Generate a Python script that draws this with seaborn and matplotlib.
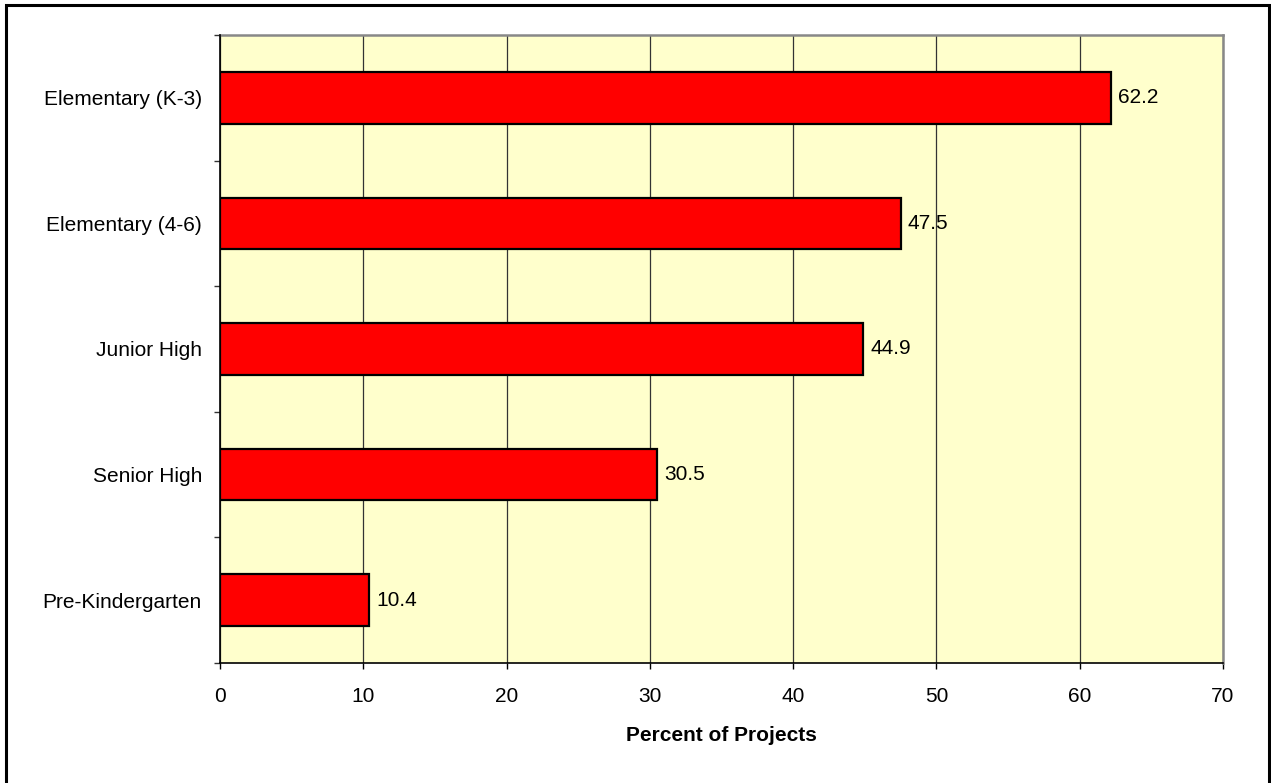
import matplotlib
matplotlib.use("Agg")
import matplotlib.pyplot as plt
import seaborn as sns
import pandas as pd
from matplotlib.patches import Rectangle
from matplotlib.ticker import FixedLocator

levels = ["Elementary (K-3)", "Elementary (4-6)", "Junior High", "Senior High", "Pre-Kindergarten"]
percent = [62.2, 47.5, 44.9, 30.5, 10.4]
xticks = [0, 10, 20, 30, 40, 50, 60, 70]

df = pd.DataFrame({"level": levels, "percent": percent})

sns.set_style("white")
plt.rcParams["font.family"] = ["Liberation Sans", "DejaVu Sans"]
plt.rcParams["text.color"] = "black"
plt.rcParams["xtick.labelcolor"] = "black"
plt.rcParams["ytick.labelcolor"] = "black"
plt.rcParams["axes.labelcolor"] = "black"

fs = 15

fig = plt.figure(figsize=(12.71, 7.83), dpi=100)
ax = fig.add_axes([220 / 1271, 1 - 663 / 783, (1223 - 220) / 1271, (663 - 35) / 783])

sns.barplot(data=df, x="percent", y="level", orient="h", color="#FF0000",
            saturation=1, width=0.41, edgecolor="black", linewidth=1.6, ax=ax, zorder=3)

ax.set_facecolor("#FFFFCC")
ax.set_xlim(0, 70)
ax.set_ylim(len(levels) - 0.5, -0.5)
ax.set_xticks(xticks)
ax.grid(axis="x", color="#333333", linewidth=0.9, zorder=0)
ax.grid(axis="y", visible=False)

# y ticks sit between categories
ax.yaxis.set_minor_locator(FixedLocator([i - 0.5 for i in range(len(levels) + 1)]))
ax.tick_params(axis="y", which="major", length=0, pad=13, labelsize=fs)
ax.tick_params(axis="y", which="minor", length=4.5, width=1, color="#333333", left=True)
ax.tick_params(axis="x", which="major", length=4.5, width=1, color="black", pad=13,
               labelsize=fs, bottom=True)

for side in ["top", "right"]:
    ax.spines[side].set_color("#888888")
    ax.spines[side].set_linewidth(1.8)
for side in ["left", "bottom"]:
    ax.spines[side].set_color("black")
    ax.spines[side].set_linewidth(1.2)
ax.spines["left"].set_zorder(5)

ax.bar_label(ax.containers[0], labels=[f"{v:.1f}" for v in percent], padding=5, fontsize=fs)

ax.set_ylabel("")
ax.set_xlabel("Percent of Projects", fontsize=fs, fontweight="bold", labelpad=14)

fig.patches.append(Rectangle((6 / 1271, -0.05), (1269 - 6) / 1271, 1.05 - 5 / 783,
                             transform=fig.transFigure, fill=False,
                             edgecolor="black", linewidth=2.2))

fig.savefig("out.png", dpi=100)
